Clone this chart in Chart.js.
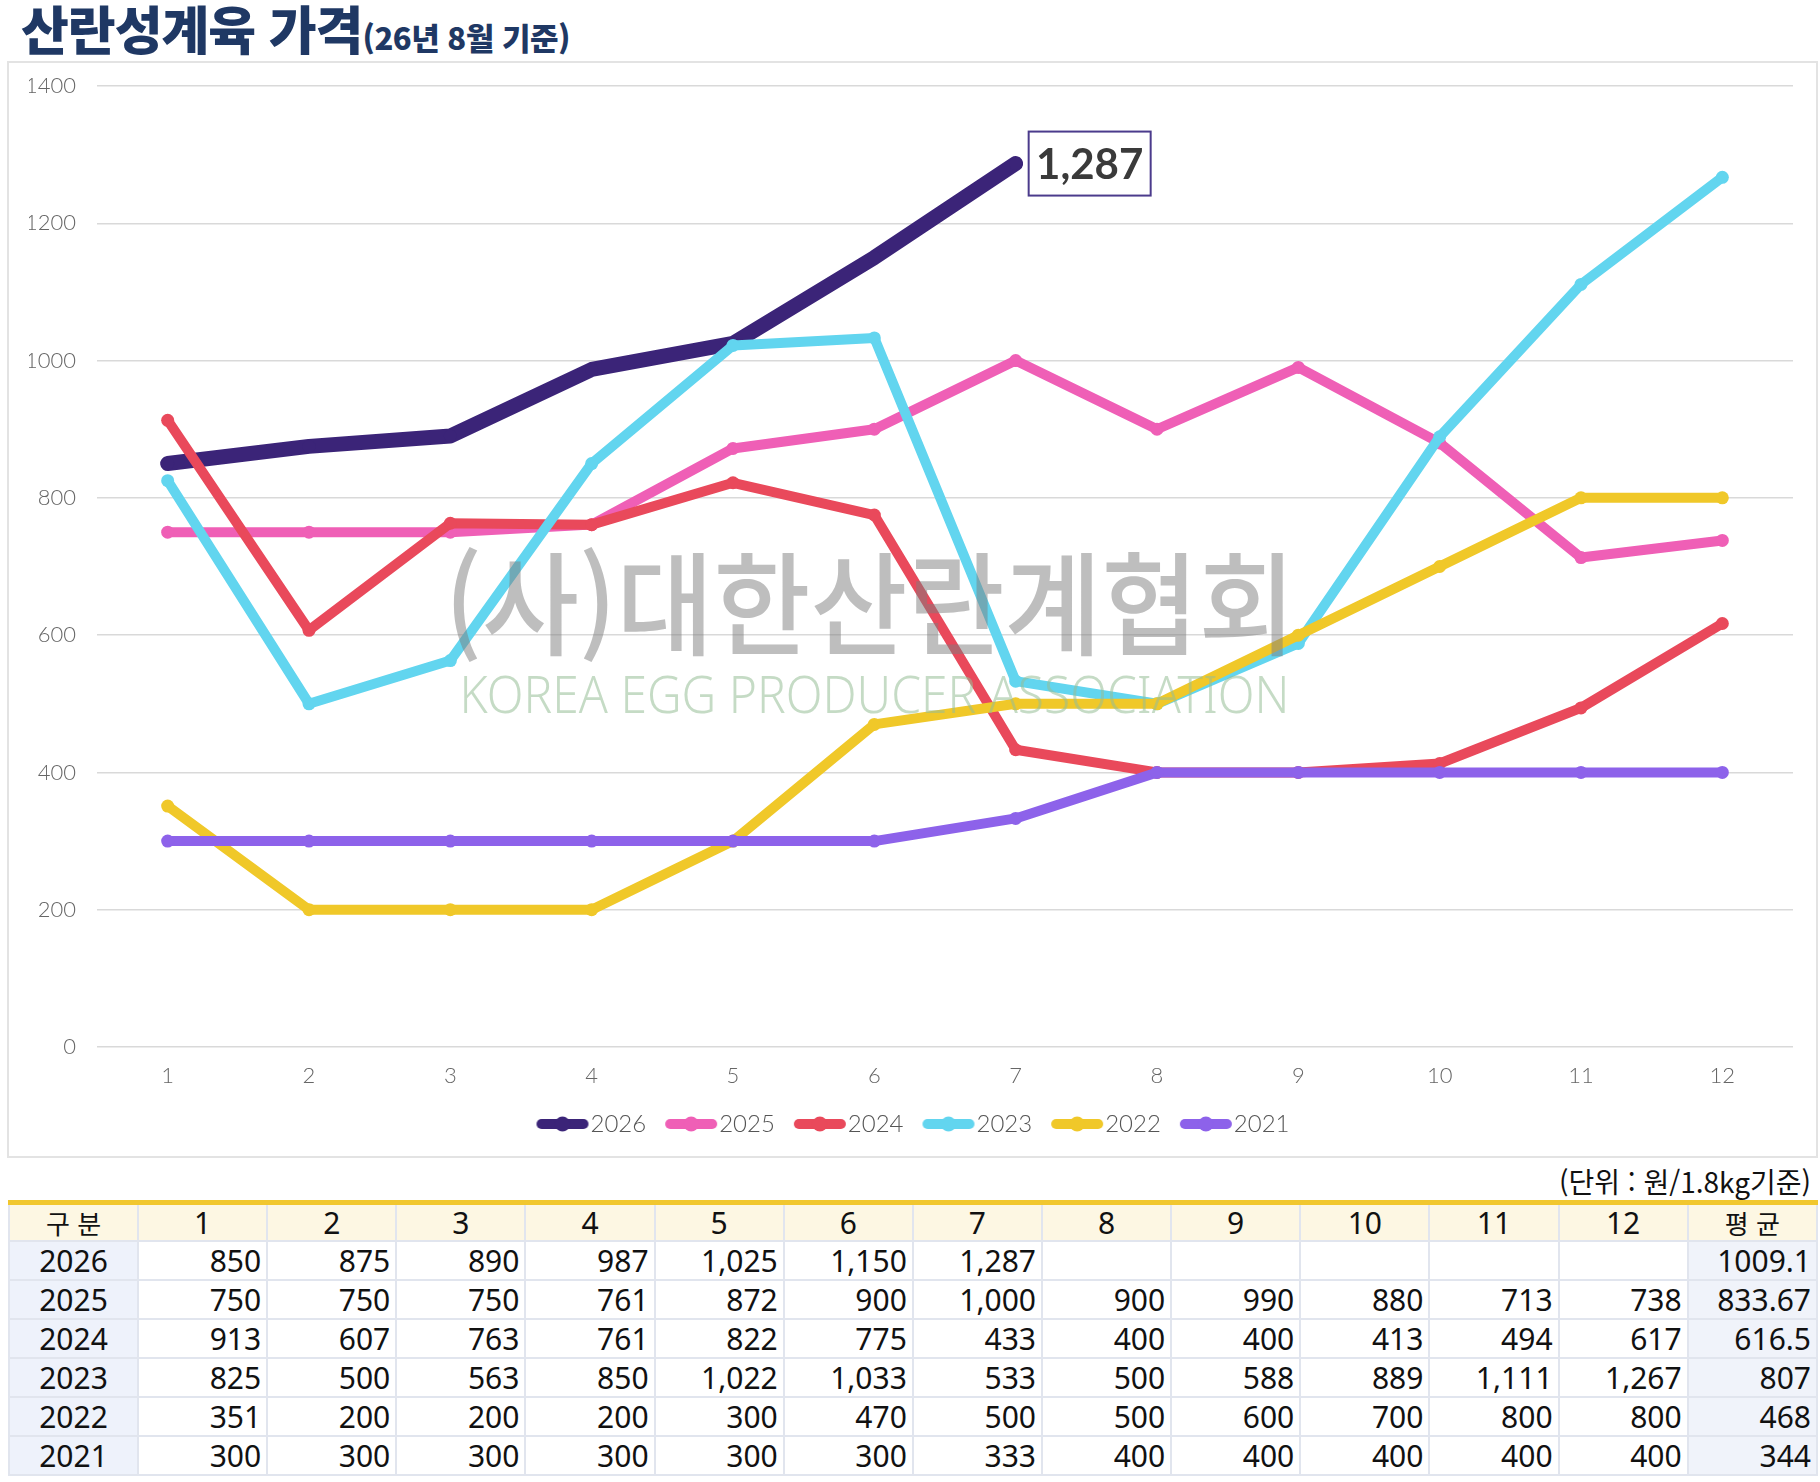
<!DOCTYPE html>
<html lang="ko">
<head>
<meta charset="utf-8">
<title>산란성계육 가격</title>
<script src="https://cdn.jsdelivr.net/npm/chart.js@4.4.0/dist/chart.umd.min.js"></script>
<style>
  html, body { margin: 0; padding: 0; background: #fff; }
  body { width: 1820px; height: 1482px; position: relative; overflow: hidden;
         font-family: "Noto Sans", "Noto Sans CJK KR", sans-serif; }
  #title { position: absolute; left: 21px; top: 0; line-height: 56px; white-space: nowrap;
           color: #1f3864; font-family: "Noto Sans CJK KR", sans-serif; font-weight: 900; }
  #title .main { font-size: 52px; letter-spacing: -1px; }
  #title .sub { font-size: 31px; letter-spacing: -0.5px; }
  #card { position: absolute; left: 7px; top: 61px; width: 1811px; height: 1097px;
          box-sizing: border-box; border: 2px solid #e3e3e3; }
  #unit { position: absolute; right: 9px; top: 1161px; font-size: 28px; line-height: 40px; color: #111;
          font-family: "Noto Sans CJK KR", sans-serif; }
  #tbl { position: absolute; left: 8px; top: 1200px; width: 1810px; border-collapse: collapse;
         table-layout: fixed; border-top: 5px solid #f1c72e; font-size: 30px; line-height: 1; color: #111; }
  #tbl td, #tbl th { border: 2px solid #e1e5ee; padding: 0 5px 0 0; height: 37px;
                     text-align: right; font-weight: 400; white-space: nowrap; }
  #tbl th { background: #fdf7e3; text-align: center; padding: 0; height: 35px; }
  #tbl td.yr { background: #eef2fb; text-align: center; padding: 0; }
  #tbl td.avg { background: #f0f3fa; }
  #tbl th.hk { font-family: "Noto Sans CJK KR", sans-serif; font-size: 26px; }
</style>
</head>
<body>
<div id="title"><span class="main">산란성계육 가격</span><span class="sub">(26년 8월 기준)</span></div>
<div id="card"><canvas id="c" width="1807" height="1093" style="width:1807px;height:1093px"></canvas></div>
<div id="unit">(단위 : 원/1.8kg기준)</div>
<table id="tbl"></table>
<script>
// months on the x axis
const months = ['1','2','3','4','5','6','7','8','9','10','11','12'];
const yTicks = [0, 200, 400, 600, 800, 1000, 1200, 1400];

// yearly prices (원/1.8kg)
const years = ['2026','2025','2024','2023','2022','2021'];
const p2026 = [850, 875, 890, 987, 1025, 1150, 1287, null, null, null, null, null];
const p2025 = [750, 750, 750, 761, 872, 900, 1000, 900, 990, 880, 713, 738];
const p2024 = [913, 607, 763, 761, 822, 775, 433, 400, 400, 413, 494, 617];
const p2023 = [825, 500, 563, 850, 1022, 1033, 533, 500, 588, 889, 1111, 1267];
const p2022 = [351, 200, 200, 200, 300, 470, 500, 500, 600, 700, 800, 800];
const p2021 = [300, 300, 300, 300, 300, 300, 333, 400, 400, 400, 400, 400];
const averages = ['1009.1', '833.67', '616.5', '807', '468', '344'];

const series = [p2026, p2025, p2024, p2023, p2022, p2021];
const colors = ['#3b2478', '#ef5fb6', '#e9495b', '#62d5ef', '#f0c829', '#8d62ea'];
const widths = [15, 10, 10, 10, 10, 10];

// table under the chart
(function buildTable(){
  const t = document.getElementById('tbl');
  let h = '<colgroup><col style="width:129px">' + months.map(() => '<col>').join('') + '<col></colgroup>';
  h += '<tr><th class="hk">구 분</th>' + months.map(m => '<th>' + m + '</th>').join('') + '<th class="hk">평 균</th></tr>';
  series.forEach((s, i) => {
    h += '<tr><td class="yr">' + years[i] + '</td>';
    s.forEach(v => { h += '<td>' + (v == null ? '' : v.toLocaleString('en-US')) + '</td>'; });
    h += '<td class="avg">' + averages[i] + '</td></tr>';
  });
  t.innerHTML = h;
})();

// legend swatch: thick line with a dot, sitting close to the label text
function swatch(color){
  const c = document.createElement('canvas');
  c.width = 70; c.height = 18;
  const g = c.getContext('2d');
  g.strokeStyle = color; g.lineWidth = 10; g.lineCap = 'round';
  g.beginPath(); g.moveTo(21, 9); g.lineTo(63, 9); g.stroke();
  g.fillStyle = color; g.beginPath(); g.arc(42, 9, 7.5, 0, Math.PI * 2); g.fill();
  return c;
}
const swatches = colors.map(swatch);

const watermark = {
  id: 'watermark',
  afterDatasetsDraw(chart){
    const { ctx, chartArea: a } = chart;
    const cx = a.left + (a.right - a.left) * 0.4605 - 8;
    ctx.save();
    ctx.textAlign = 'center'; ctx.textBaseline = 'middle';
    ctx.font = '500 100px "Noto Sans CJK KR"';
    let txt = '(사)대한산란계협회';
    let w = ctx.measureText(txt).width;
    ctx.translate(cx, a.top + 518);
    ctx.scale(851 / w, 1.12);
    ctx.fillStyle = 'rgba(125,125,125,0.5)';
    ctx.fillText(txt, 0, 0);
    ctx.restore();
    ctx.save();
    ctx.textAlign = 'center'; ctx.textBaseline = 'middle';
    ctx.font = '300 52px "Noto Sans"';
    txt = 'KOREA EGG PRODUCER ASSOCIATION';
    w = ctx.measureText(txt).width;
    ctx.translate(cx + 4.5, a.top + 612);
    ctx.scale(830 / w, 1);
    ctx.fillStyle = 'rgba(150,190,150,0.55)';
    ctx.fillText(txt, 0, 0);
    ctx.restore();
  }
};

const lastLabel = {
  id: 'lastLabel',
  afterDatasetsDraw(chart){
    const meta = chart.getDatasetMeta(0);
    let idx = -1;
    p2026.forEach((v, i) => { if (v != null) idx = i; });
    const pt = meta.data[idx];
    const { ctx } = chart;
    const txt = p2026[idx].toLocaleString('en-US');
    const bx = pt.x + 13, bw = 122, bh = 64, by = pt.y - bh / 2;
    ctx.save();
    ctx.fillStyle = '#fff';
    ctx.fillRect(bx, by, bw, bh);
    ctx.strokeStyle = '#4b3b8c'; ctx.lineWidth = 2;
    ctx.strokeRect(bx, by, bw, bh);
    ctx.fillStyle = '#3a3a3a';
    ctx.font = 'bold 42px Lato';
    ctx.textAlign = 'center'; ctx.textBaseline = 'middle';
    ctx.fillText(txt, bx + bw / 2, pt.y + 2);
    ctx.restore();
  }
};

const tickFont = { family: 'Lato', size: 22, weight: '300' };

new Chart(document.getElementById('c'), {
  type: 'line',
  data: {
    labels: months,
    datasets: series.map((s, i) => ({
      label: years[i],
      data: s,
      borderColor: colors[i],
      backgroundColor: colors[i],
      borderWidth: widths[i],
      pointRadius: 6.5,
      pointBorderWidth: 0,
      pointBackgroundColor: colors[i],
      borderJoinStyle: 'round',
      borderCapStyle: 'round',
      tension: 0,
      spanGaps: false,
      order: -i
    }))
  },
  options: {
    responsive: false,
    animation: false,
    devicePixelRatio: 1,
    layout: { padding: { top: 23, right: 23, bottom: 10, left: 20 } },
    scales: {
      x: {
        offset: true,
        grid: { display: false, drawTicks: false },
        border: { display: false },
        ticks: { font: tickFont, color: '#666', padding: 16 },
        afterFit(s){ s.height = 50; }
      },
      y: {
        min: 0, max: 1400,
        afterBuildTicks(s){ s.ticks = yTicks.map(v => ({ value: v })); },
        grid: { color: '#d9d9d9', lineWidth: 1.5, drawTicks: false },
        border: { display: false },
        ticks: { font: tickFont, color: '#666', padding: 21, callback: v => String(v) },
        afterFit(s){ s.width = 68; s.paddingTop = 0; s.paddingBottom = 0; }
      }
    },
    plugins: {
      tooltip: { enabled: false },
      legend: {
        position: 'bottom',
        labels: {
          usePointStyle: true,
          pointStyleWidth: 46,
          padding: 15,
          font: { family: 'Lato', size: 24, weight: '300' },
          color: '#555',
          sort: (a, b) => a.datasetIndex - b.datasetIndex,
          generateLabels(chart){
            const items = Chart.defaults.plugins.legend.labels.generateLabels(chart);
            items.forEach(it => { it.pointStyle = swatches[it.datasetIndex]; });
            return items;
          }
        }
      }
    }
  },
  plugins: [watermark, lastLabel]
});
</script>
</body>
</html>
